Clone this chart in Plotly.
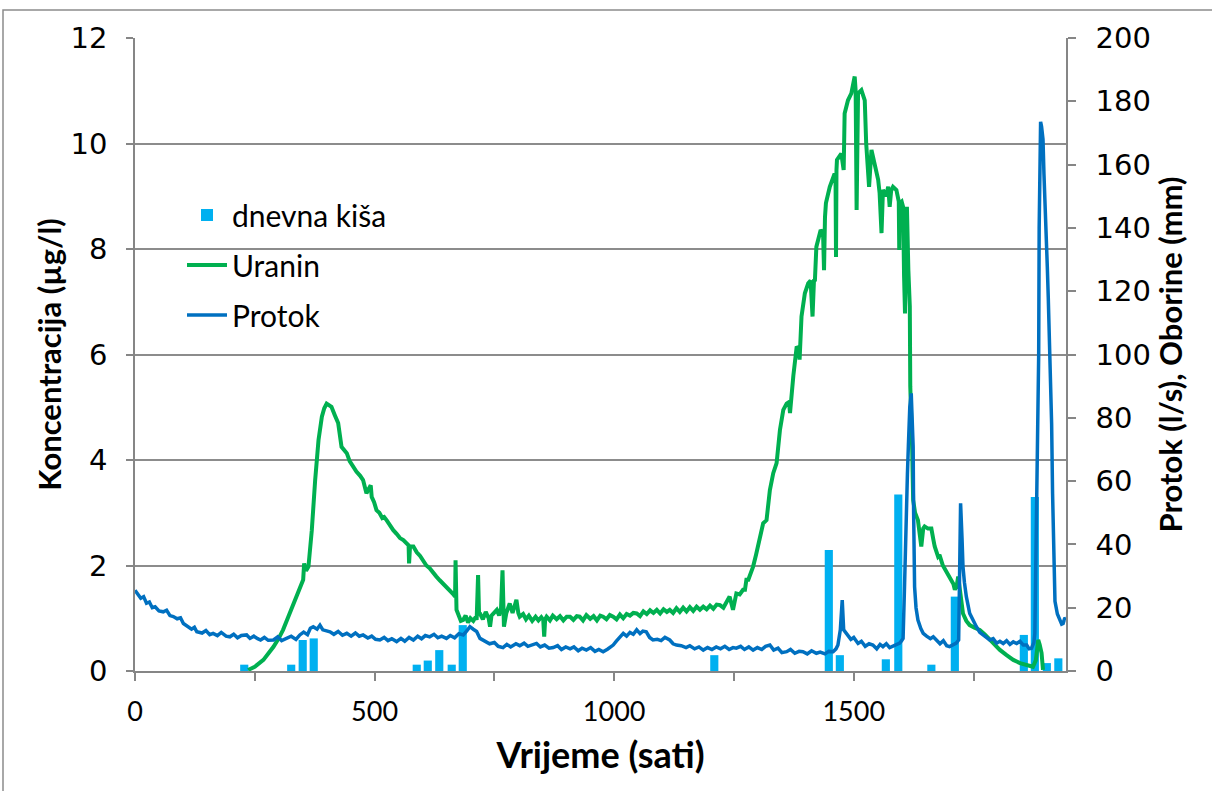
import plotly.graph_objects as go

# dnevna kiša (mm) - bars on right axis
rain_t = [228, 326, 350, 373, 588, 611, 635, 661, 684, 1209, 1448, 1471, 1567, 1593,
          1662, 1711, 1855, 1878, 1903, 1927]
rain_mm = [2, 2, 9.8, 10.3, 2, 3.3, 6.6, 2, 14.5, 5, 38.2, 5, 3.7, 55.8,
           2, 23.5, 11.4, 55, 2.5, 4]

# Uranin (µg/l) - left axis
uranin_t = [236, 250, 268, 280, 289, 300, 309, 320, 330, 337, 345, 351, 353, 357, 362, 369,
            376, 383, 390, 395, 400, 405, 410, 417, 424, 431, 436, 442, 448, 455, 462, 470,
            476, 483, 488, 492, 494, 499, 504, 510, 516, 520, 525, 532, 539, 546, 553, 560,
            567, 571, 572, 574, 581, 588, 595, 601, 608, 615, 622, 629, 636, 643, 650, 657,
            664, 668, 669, 671, 676, 680, 685, 690, 695, 700, 706, 711, 713, 716, 718, 720,
            726, 732, 738, 741, 744, 750, 755, 760, 764, 767, 769, 770, 775, 782, 788, 796,
            800, 803, 810, 816, 822, 829, 836, 842, 848, 852, 854, 856, 859, 866, 872, 880,
            887, 894, 901, 908, 915, 922, 928, 935, 942, 950, 957, 964, 971, 977, 984, 991,
            998, 1005, 1012, 1019, 1026, 1033, 1040, 1047, 1054, 1061, 1068, 1075, 1082, 1089,
            1096, 1103, 1110, 1116, 1123, 1130, 1137, 1144, 1151, 1158, 1165, 1172, 1179, 1186,
            1193, 1200, 1207, 1214, 1221, 1228, 1234, 1241, 1248, 1255, 1262, 1269, 1273, 1276,
            1280, 1287, 1290, 1296, 1301, 1306, 1311, 1318, 1325, 1332, 1339, 1346, 1353, 1360,
            1365, 1367, 1370, 1374, 1381, 1386, 1387, 1391, 1398, 1405, 1410, 1414, 1417, 1419,
            1422, 1428, 1431, 1436, 1438, 1440, 1442, 1450, 1455, 1460, 1462, 1463, 1464, 1465,
            1474, 1479, 1481, 1488, 1495, 1502, 1504, 1506, 1507, 1509, 1516, 1523, 1526, 1532,
            1537, 1544, 1551, 1554, 1558, 1561, 1567, 1572, 1575, 1578, 1582, 1589, 1594, 1595,
            1596, 1600, 1603, 1605, 1607, 1609, 1611, 1614, 1617, 1618, 1620, 1622, 1624, 1628,
            1634, 1638, 1641, 1645, 1648, 1655, 1662, 1666, 1669, 1676, 1679, 1686, 1694, 1699,
            1704, 1708, 1711, 1715, 1718, 1721, 1725, 1728, 1735, 1742, 1752, 1763, 1773, 1784,
            1795, 1805, 1819, 1833, 1847, 1861, 1874, 1880, 1885, 1888, 1892, 1895]
uranin_c = [0.02, 0.08, 0.21, 0.35, 0.46, 0.62, 0.78, 1.03, 1.25, 1.41, 1.58, 1.73, 2.04, 1.9, 1.98, 2.67,
            3.62, 4.38, 4.82, 4.98, 5.07, 5.05, 5.01, 4.85, 4.70, 4.25, 4.2, 4.13, 3.98, 3.87, 3.78, 3.7,
            3.62, 3.37, 3.45, 3.52, 3.3, 3.2, 3.05, 3.0, 2.9, 2.92, 2.86, 2.76, 2.67, 2.6, 2.52, 2.48,
            2.42, 2.38, 2.04, 2.36, 2.36, 2.25, 2.18, 2.10, 2.0, 1.95, 1.86, 1.79, 1.72, 1.66, 1.6, 1.54,
            1.46, 1.41, 2.10, 1.16, 1.02, 0.95, 0.97, 1.05, 0.92, 1.0, 0.95, 1.02, 0.97, 1.82, 1.1, 1.09,
            0.98, 1.12, 1.0, 0.84, 1.05, 1.12, 1.16, 1.05, 1.2, 1.91, 1.0, 0.84, 1.1, 1.28, 1.1, 1.35,
            1.1, 1.03, 1.08, 0.98, 1.05, 0.95, 1.03, 0.96, 1.02, 0.97, 0.65, 0.98, 1.03, 0.96, 1.05, 0.98,
            1.04, 0.96, 1.03, 1.03, 0.97, 1.04, 1.03, 0.96, 1.06, 0.99, 1.04, 0.96, 1.05, 1.03, 0.98, 1.06,
            1.03, 0.98, 1.07, 1.0, 1.08, 1.05, 1.1, 1.09, 1.04, 1.13, 1.08, 1.15, 1.1, 1.16,
            1.09, 1.17, 1.12, 1.16, 1.1, 1.19, 1.12, 1.2, 1.13, 1.21, 1.14, 1.22, 1.16, 1.22,
            1.17, 1.24, 1.18, 1.26, 1.25, 1.2, 1.3, 1.41, 1.16, 1.47, 1.45, 1.54, 1.54, 1.73,
            1.73, 1.88, 1.98, 2.2, 2.42, 2.6, 2.80, 2.86, 3.43, 3.75, 3.94, 4.57, 4.95, 5.07,
            5.1, 4.89, 5.26, 5.6, 6.15, 6.1, 5.9, 6.72, 7.16, 7.35, 7.4, 6.72, 7.4, 7.41,
            8.04, 8.3, 8.36, 8.3, 7.60, 8.6, 8.87, 9.18, 9.3, 9.43, 9.4, 7.85, 9.5, 9.69,
            9.81, 9.50, 10.57, 10.82, 10.95, 11.27, 11.0, 8.74, 10.8, 10.95, 11.01, 10.82, 10.0, 9.18,
            9.88, 9.56, 9.31, 9.06, 8.30, 9.12, 9.0, 9.18, 8.80, 9.1, 9.18, 9.12, 8.9, 7.98,
            8.87, 8.9, 8.80, 7.5, 6.78, 8.2, 8.80, 7.6, 6.91, 5.4, 5.0, 4.2, 3.24, 3.0,
            2.86, 2.6, 2.36, 2.7, 2.74, 2.7, 2.7, 2.5, 2.36, 2.17, 2.2, 2.0, 1.88, 1.82,
            1.73, 1.65, 1.54, 1.62, 1.79, 1.60, 1.3, 1.09, 0.95, 0.87, 0.82, 0.78, 0.7, 0.59,
            0.5, 0.40, 0.3, 0.21, 0.15, 0.11, 0.08, 0.2, 0.59, 0.5, 0.34, 0.02]

# Protok (l/s) - right axis
protok_t = [0, 5, 12, 18, 24, 30, 36, 42, 50, 59, 66, 73, 80, 88, 95, 101, 110, 118, 124, 129,
            140, 148, 156, 163, 172, 180, 190, 198, 206, 214, 222, 233, 240, 248, 256, 262, 270,
            278, 289, 298, 306, 316, 326, 336, 344, 352, 360, 366, 372, 380, 386, 392, 400, 407,
            415, 424, 433, 442, 451, 460, 468, 476, 486, 494, 502, 511, 520, 528, 536, 546, 555,
            563, 572, 581, 590, 598, 606, 615, 624, 632, 640, 650, 658, 667, 676, 685, 692, 699,
            706, 713, 720, 730, 740, 750, 758, 768, 776, 784, 795, 803, 812, 820, 829, 838, 846,
            855, 864, 873, 882, 890, 899, 908, 916, 925, 933, 942, 951, 960, 968, 977, 986, 992,
            998, 1005, 1012, 1019, 1026, 1033, 1040, 1047, 1054, 1060, 1067, 1074, 1081, 1090,
            1098, 1106, 1116, 1123, 1130, 1140, 1150, 1158, 1168, 1177, 1186, 1195, 1204, 1213,
            1222, 1231, 1240, 1248, 1255, 1264, 1272, 1281, 1290, 1299, 1308, 1316, 1325, 1333,
            1342, 1350, 1360, 1368, 1377, 1386, 1394, 1403, 1412, 1422, 1430, 1440, 1448, 1457,
            1463, 1467, 1472, 1476, 1479, 1484, 1488, 1494, 1500, 1509, 1516, 1524, 1532, 1540,
            1548, 1555, 1561, 1568, 1575, 1582, 1589, 1596, 1600, 1603, 1606, 1608, 1610, 1612,
            1614, 1617, 1620, 1622, 1624, 1625, 1627, 1630, 1634, 1640, 1645, 1652, 1660, 1666,
            1673, 1680, 1687, 1694, 1700, 1708, 1714, 1719, 1721, 1723, 1726, 1728, 1731, 1735,
            1742, 1749, 1756, 1763, 1770, 1777, 1784, 1791, 1798, 1805, 1812, 1819, 1826, 1833,
            1840, 1847, 1854, 1861, 1866, 1871, 1876, 1878, 1880, 1881, 1883, 1885, 1886, 1887,
            1888, 1890, 1892, 1895, 1897, 1899, 1901, 1904, 1906, 1908, 1911, 1913, 1915, 1917,
            1920, 1925, 1930, 1934, 1937, 1940, 1943]
protok_q = [25.5, 24.5, 23, 23.5, 21.4, 21.8, 20, 20.3, 19, 18.7, 19.2, 17.5, 17.2, 16.5, 16.8, 15, 14, 13.2, 13.8, 12.4,
            12, 12.8, 11.5, 11.9, 11.2, 12.2, 11, 10.8, 11.6, 10.5, 11.2, 11.4, 10.3, 11, 10.2, 9.8, 10.6,
            9.7, 9.8, 10.8, 9.6, 10.3, 11.0, 10.0, 11.4, 12.3, 11.5, 13.5, 14, 13.2, 14.5, 13, 12.6, 12.4,
            11.6, 12.5, 11.3, 11.9, 11, 12.0, 11.0, 11.4, 10.4, 11.0, 10.0, 9.8, 10.6, 9.6, 10.2, 9.3, 10.3,
            9.4, 10.6, 9.8, 11.0, 10.2, 11.2, 10.8, 11.6, 10.5, 11.0, 10.3, 11.2, 10.5, 11.8, 11.4, 12.6, 14,
            13.2, 12.5, 10.3, 9.6, 8.6, 9.0, 7.8, 7.4, 8.4, 7.6, 8.6, 8.0, 8.8, 7.8, 8.4, 8.7, 7.6,
            8.2, 7.2, 7.4, 8.0, 6.8, 7.6, 7.0, 7.6, 6.4, 7.2, 6.6, 7.4, 6.2, 6.8, 6.1, 6.9, 7.6,
            8.2, 9.5, 10.8, 11.9, 11.0, 12.2, 11.6, 13.0, 11.8, 12.6, 12.4, 10.6, 9.8, 10.0,
            9.6, 10.6, 9.8, 8.6, 8.2, 8.0, 7.4, 8.0, 7.0, 7.6, 6.6, 7.4, 6.8, 7.6,
            7.0, 7.8, 6.8, 7.4, 7.2, 7.8, 6.8, 7.6, 6.6, 7.4, 6.8, 7.8, 8.2, 6.6,
            7.2, 5.8, 6.1, 6.8, 5.6, 6.2, 6.1, 5.4, 6.4, 5.6, 6.0, 5.4, 6.2, 6.1,
            7.0, 8.2, 13, 22.4, 13, 12.0, 11.4, 10.0, 10.6, 8.7, 9.4, 7.8, 8.6, 8.2,
            7.0, 8.4, 7.7, 8.6, 7.4, 7.8, 8.2, 8.8, 9.6, 10.3, 26.6, 42, 52, 62,
            71, 83.5, 87.7, 80, 70.9, 50, 26.6, 20, 16.1, 13.4, 11.9, 11.0, 10.2, 10.8,
            9.8, 8.6, 9.6, 8.0, 7.7, 8.4, 8.8, 9.8, 35, 53, 42, 33, 28, 23.5,
            18.2, 15.8, 14, 12.2, 11.4, 10.6, 9.8, 10.2, 8.8, 9.4, 8.7, 9.6, 8.4, 9.2,
            8.7, 9.4, 8.2, 8.2, 7.0, 7.2, 9.0, 11.9, 30, 49.8, 65, 81.4, 100, 140,
            160, 173.5, 172, 168, 157, 150, 140.4, 127.7, 118, 107.7, 94, 78, 56, 36,
            22, 18, 16.1, 14.8, 15, 16.5, 16.6]

# plot area in px: left 135, right 1066, top 38, bottom 671
L, R, T, B = 135, 1066, 38, 671
W, H = R - L, B - T


def px_x(p):
    return (p - L) / W


def px_y(p):
    return (B - p) / H


axis_grey = "#868686"
title_font = dict(family="Lato", size=31, color="black", weight="bold")

fig = go.Figure()

fig.add_trace(go.Bar(
    x=rain_t, y=rain_mm, name="dnevna kiša", width=17,
    marker=dict(color="#00B0F0", line=dict(width=0)),
    yaxis="y", legendgroup="a"
))
fig.add_trace(go.Scatter(
    x=uranin_t, y=uranin_c, name="Uranin", mode="lines",
    line=dict(color="#00B050", width=4),
    yaxis="y2", legendgroup="b"
))
fig.add_trace(go.Scatter(
    x=protok_t, y=protok_q, name="Protok", mode="lines",
    line=dict(color="#0070C0", width=3.5),
    yaxis="y3", legendgroup="c"
))

fig.update_layout(
    width=1212, height=791,
    margin=dict(l=L, r=1212 - R, t=T, b=791 - B),
    paper_bgcolor="white", plot_bgcolor="white",
    showlegend=True,
    legend=dict(
        x=px_x(182), y=px_y(189), xanchor="left", yanchor="top",
        bgcolor="rgba(0,0,0,0)", font=dict(family="Lato", size=30, color="black"),
        traceorder="grouped", tracegroupgap=8, itemwidth=40
    ),
    xaxis=dict(
        range=[0, 1943], tick0=0, dtick=500,
        showline=True, linecolor=axis_grey, linewidth=1.5,
        ticks="outside", ticklen=8, tickcolor=axis_grey, tickwidth=1.5,
        minor=dict(dtick=250, ticks="outside", ticklen=8, tickcolor=axis_grey, tickwidth=1.5),
        ticklabelstandoff=8,
        showgrid=False, zeroline=False,
        tickfont=dict(family="Lato", size=27, color="black"),
        title=dict(text="Vrijeme (sati)", font=dict(title_font, size=36), standoff=17),
    ),
    yaxis=dict(
        side="right", range=[0, 200], tick0=0, dtick=20,
        showline=True, linecolor=axis_grey, linewidth=1.5,
        ticks="outside", ticklen=8, tickcolor=axis_grey, tickwidth=1.5,
        ticklabelstandoff=14,
        showgrid=False, zeroline=False,
        tickfont=dict(family="DejaVu Sans", size=29, color="black"),
        title=dict(text="Protok (l/s), Oborine (mm)", font=title_font, standoff=4),
    ),
    yaxis2=dict(
        overlaying="y", side="left", range=[0, 12], tick0=0, dtick=2,
        showline=True, linecolor=axis_grey, linewidth=1.5,
        ticks="outside", ticklen=7, tickcolor=axis_grey, tickwidth=1.5,
        ticklabelstandoff=13,
        showgrid=True, gridcolor="#8c8c8c", gridwidth=1.5, zeroline=False,
        tickfont=dict(family="DejaVu Sans", size=29, color="black"),
        title=dict(text="Koncentracija (µg/l)", font=title_font, standoff=0),
    ),
    yaxis3=dict(
        overlaying="y", side="right", range=[0, 200], visible=False,
    ),
    shapes=[dict(
        type="rect", xref="paper", yref="paper",
        x0=px_x(3), x1=px_x(1215), y0=px_y(796), y1=px_y(10),
        line=dict(color="#8c8c8c", width=1.5), fillcolor="rgba(0,0,0,0)", layer="below"
    )],
)

# the page body has an 8px default margin; drop it so the figure sits at the window origin
fig.write_html("out.html", config={"displayModeBar": False},
               post_script="document.body.style.margin='0';")
